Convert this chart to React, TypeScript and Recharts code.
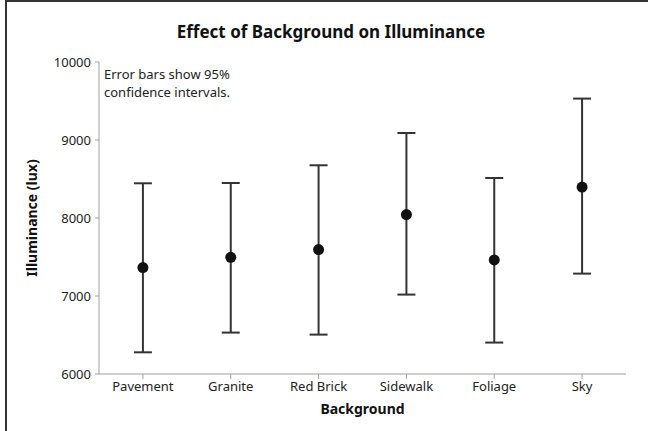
import React from "react";
import {
  ComposedChart,
  Line,
  XAxis,
  YAxis,
  ErrorBar,
  Label,
} from "recharts";

// Mean illuminance per background with 95% confidence limits (lux)
const backgrounds = ["Pavement", "Granite", "Red Brick", "Sidewalk", "Foliage", "Sky"];
const means = [7364, 7496, 7595, 8044, 7462, 8397];
const lowerCI = [6278, 6531, 6505, 7018, 6403, 7287];
const upperCI = [8445, 8449, 8676, 9090, 8513, 9531];
const yTicks = [6000, 7000, 8000, 9000, 10000];

const data = backgrounds.map((name, i) => ({
  name,
  mean: means[i],
  ci: [means[i] - lowerCI[i], upperCI[i] - means[i]],
}));

const FONT = "'Noto Sans', 'Open Sans', sans-serif";
const FRAME = "#a0a0a0";
const TEXT = "#222";

export default function App() {
  return (
    <div
      style={{
        position: "absolute",
        left: 0,
        top: 0,
        width: 648,
        height: 431,
        background: "#fff",
        fontFamily: FONT,
      }}
    >
      <div
        style={{
          position: "absolute",
          left: 5,
          top: 0,
          width: 643,
          height: 431,
          borderTop: "2px solid #333",
          borderLeft: "2px solid #333",
          boxSizing: "border-box",
        }}
      />
      <div
        style={{
          position: "absolute",
          left: 0,
          width: 662,
          top: 20,
          textAlign: "center",
          fontWeight: 700,
          fontSize: 17,
          color: "#111",
          lineHeight: "24px",
        }}
      >
        Effect of Background on Illuminance
      </div>
      <div
        style={{
          position: "absolute",
          left: 104,
          top: 65,
          fontSize: 13,
          lineHeight: "18px",
          color: TEXT,
        }}
      >
        Error bars show 95%
        <br />
        confidence intervals.
      </div>
      <ComposedChart
        width={648}
        height={431}
        data={data}
        margin={{ top: 62, right: 22, bottom: 27, left: 39 }}
        style={{ position: "absolute", left: 0, top: 0 }}
      >
        <XAxis
          dataKey="name"
          type="category"
          scale="band"
          padding={{ left: 0, right: 0 }}
          height={30}
          stroke={FRAME}
          tickSize={5}
          tickMargin={3}
          tick={{ fill: TEXT, fontSize: 13, fontFamily: FONT }}
          interval={0}
        >
          <Label
            value="Background"
            position="insideBottom"
            offset={-10}
            style={{ fontWeight: 700, fontSize: 14, fill: "#111", fontFamily: FONT }}
          />
        </XAxis>
        <XAxis
          xAxisId="top"
          dataKey="name"
          scale="band"
          orientation="top"
          height={0}
          tick={false}
          tickLine={false}
          stroke={FRAME}
        />
        <YAxis
          type="number"
          domain={[6000, 10000]}
          ticks={yTicks}
          width={60}
          stroke={FRAME}
          tickSize={4}
          tickMargin={4}
          tick={{ fill: TEXT, fontSize: 13, fontFamily: FONT }}
          allowDataOverflow
        >
          <Label
            value="Illuminance (lux)"
            angle={-90}
            position="insideLeft"
            offset={-7}
            style={{
              fontWeight: 700,
              fontSize: 14,
              fill: "#111",
              fontFamily: FONT,
              textAnchor: "middle",
            }}
          />
        </YAxis>
        <YAxis
          yAxisId="right"
          orientation="right"
          domain={[6000, 10000]}
          width={0}
          tick={false}
          tickLine={false}
          stroke={FRAME}
        />
        <Line
          dataKey="mean"
          stroke="none"
          isAnimationActive={false}
          dot={{ r: 5.5, fill: "#111", stroke: "none" }}
          activeDot={false}
        >
          <ErrorBar
            dataKey="ci"
            direction="y"
            width={9}
            stroke="#333"
            strokeWidth={2}
            isAnimationActive={false}
          />
        </Line>
      </ComposedChart>
    </div>
  );
}
